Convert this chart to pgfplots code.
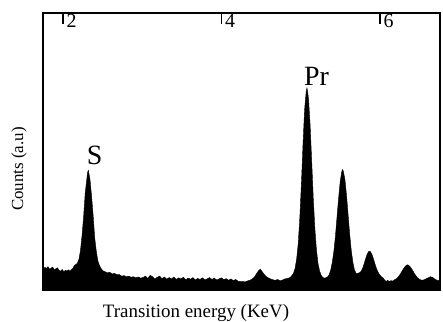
\documentclass[border=0pt]{standalone}
\usepackage{fontspec}
\setmainfont{Liberation Serif}
\usepackage{pgfplots}
\pgfplotsset{compat=1.18}
\begin{document}
\begin{tikzpicture}
\path[use as bounding box] (-43bp,-32bp) rectangle (400bp,290bp);
\begin{axis}[
  at={(0,0)}, anchor=south west,
  scale only axis, width=397bp, height=277bp,
  xmin=1.747, xmax=6.76, ymin=0, ymax=1,
  axis line style={line width=1.3pt},
  xtick={2,4,6}, xticklabels={\fontsize{20}{20}\selectfont 2,\fontsize{20}{20}\selectfont 4,\fontsize{20}{20}\selectfont 6},
  xtick pos=upper, xticklabel pos=upper,
  tick align=inside, major tick length=11bp,
  xtick style={line width=1.4pt, black},
  ytick=\empty,
  xticklabel style={anchor=north west, inner sep=0pt, xshift=3.5bp, yshift=-1.5bp},
]
\addplot[fill=black, draw=black, line width=0.4pt] coordinates {
(1.747,0.070) (1.77,0.082) (1.79,0.078) (1.81,0.084) (1.83,0.075) (1.85,0.079) (1.87,0.083) (1.89,0.072)
(1.91,0.077) (1.93,0.080) (1.95,0.071) (1.97,0.068) (1.99,0.074) (2.01,0.066) (2.03,0.071) (2.05,0.069)
(2.07,0.073) (2.09,0.068) (2.11,0.075) (2.13,0.080) (2.14,0.088) (2.16,0.092) (2.18,0.096) (2.20,0.110)
(2.22,0.142) (2.24,0.197) (2.26,0.265) (2.28,0.350) (2.30,0.400) (2.31,0.425) (2.32,0.432) (2.33,0.415)
(2.34,0.400) (2.36,0.340) (2.38,0.270) (2.40,0.188) (2.42,0.140) (2.44,0.105) (2.46,0.088) (2.48,0.078)
(2.50,0.070) (2.53,0.066) (2.56,0.062) (2.59,0.064) (2.62,0.058) (2.65,0.060) (2.68,0.055) (2.71,0.056)
(2.74,0.050) (2.77,0.052) (2.80,0.048) (2.83,0.050) (2.86,0.046) (2.89,0.048) (2.92,0.044) (2.95,0.047)
(2.98,0.043) (3.01,0.045) (3.04,0.050) (3.07,0.042) (3.10,0.053) (3.13,0.048) (3.16,0.040) (3.19,0.046)
(3.22,0.050) (3.25,0.041) (3.28,0.047) (3.31,0.039) (3.34,0.045) (3.37,0.040) (3.40,0.047) (3.43,0.038)
(3.46,0.044) (3.49,0.040) (3.52,0.046) (3.55,0.037) (3.58,0.043) (3.61,0.039) (3.64,0.045) (3.67,0.036)
(3.70,0.042) (3.73,0.038) (3.76,0.044) (3.79,0.037) (3.82,0.040) (3.85,0.045) (3.88,0.038) (3.91,0.043)
(3.94,0.036) (3.97,0.040) (4.00,0.044) (4.03,0.037) (4.06,0.041) (4.09,0.035) (4.12,0.040) (4.15,0.034)
(4.18,0.038) (4.21,0.032) (4.24,0.030) (4.27,0.031) (4.30,0.029) (4.33,0.033) (4.36,0.035) (4.39,0.040)
(4.42,0.048) (4.45,0.062) (4.47,0.070) (4.49,0.075) (4.51,0.068) (4.53,0.060) (4.56,0.050) (4.59,0.044)
(4.62,0.040) (4.65,0.037) (4.68,0.035) (4.71,0.038) (4.74,0.033) (4.77,0.036) (4.80,0.040) (4.84,0.042)
(4.87,0.046) (4.89,0.052) (4.91,0.060) (4.93,0.078) (4.95,0.112) (4.97,0.168) (4.99,0.262) (5.01,0.385)
(5.03,0.525) (5.05,0.650) (5.07,0.715) (5.08,0.730) (5.09,0.712) (5.10,0.690) (5.12,0.595) (5.14,0.465)
(5.16,0.330) (5.18,0.222) (5.20,0.145) (5.22,0.095) (5.24,0.068) (5.26,0.053) (5.28,0.045) (5.30,0.043)
(5.32,0.044) (5.34,0.047) (5.36,0.055) (5.38,0.072) (5.40,0.100) (5.42,0.140) (5.44,0.196) (5.46,0.265)
(5.48,0.333) (5.50,0.392) (5.52,0.428) (5.53,0.435) (5.54,0.428) (5.56,0.398) (5.58,0.340) (5.60,0.270)
(5.62,0.200) (5.64,0.142) (5.66,0.100) (5.68,0.072) (5.70,0.060) (5.72,0.060) (5.74,0.062) (5.76,0.066)
(5.78,0.076) (5.80,0.093) (5.82,0.112) (5.84,0.129) (5.86,0.139) (5.87,0.140) (5.88,0.139) (5.90,0.129)
(5.92,0.112) (5.94,0.093) (5.96,0.076) (5.98,0.063) (6.00,0.054) (6.02,0.048) (6.04,0.044) (6.06,0.036)
(6.08,0.031) (6.10,0.035) (6.12,0.030) (6.14,0.034) (6.16,0.032) (6.18,0.036) (6.20,0.039) (6.22,0.043)
(6.24,0.050) (6.26,0.058) (6.28,0.068) (6.30,0.077) (6.32,0.085) (6.34,0.090) (6.35,0.091) (6.36,0.090)
(6.38,0.085) (6.40,0.077) (6.42,0.068) (6.44,0.058) (6.46,0.050) (6.48,0.043) (6.50,0.039) (6.52,0.036)
(6.55,0.036) (6.58,0.040) (6.61,0.044) (6.64,0.048) (6.67,0.045) (6.70,0.038) (6.73,0.035) (6.76,0.033)
} \closedcycle;
\node[font=\fontsize{28}{28}\selectfont, inner sep=0pt] at (axis cs:2.40,0.487) {S};
\node[font=\fontsize{28}{28}\selectfont, inner sep=0pt] at (axis cs:5.20,0.77) {Pr};
\end{axis}
\node[font=\fontsize{19}{19}\selectfont, anchor=base, inner sep=0pt] at (153bp,-27bp) {Transition energy (KeV)};
\node[font=\fontsize{17}{17}\selectfont, rotate=90, inner sep=0pt] at (-24bp,121bp) {Counts (a.u)};
\end{tikzpicture}
\end{document}
